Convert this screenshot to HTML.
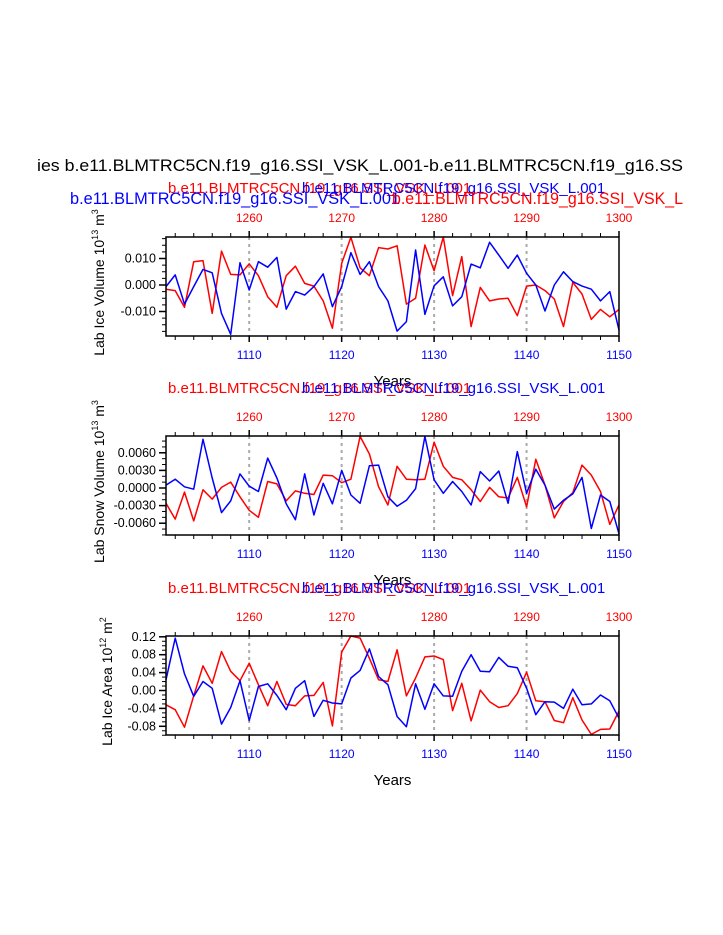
<!DOCTYPE html>
<html><head><meta charset="utf-8"><style>
body{margin:0;background:#fff;}
svg{display:block;font-family:"Liberation Sans",sans-serif;}
</style></head><body>
<svg id="chart" width="723" height="935" viewBox="0 0 723 935" xmlns="http://www.w3.org/2000/svg">
<text x="37" y="171" font-size="17" fill="#000" textLength="646" lengthAdjust="spacingAndGlyphs">ies b.e11.BLMTRC5CN.f19_g16.SSI_VSK_L.001-b.e11.BLMTRC5CN.f19_g16.SS</text>
</svg>
<script>
const years = [];
for (let i = 0; i < 50; i++) years.push(1101 + i);
const topLabels = ["1260","1270","1280","1290","1300"];
const botLabels = ["1110","1120","1130","1140","1150"];
const iceVolBlue = [-0.0006,0.0038,-0.0072,-0.0006,0.0059,0.0046,-0.0107,-0.0186,0.0084,-0.0019,0.0088,0.0067,0.0104,-0.0091,-0.0025,-0.0038,-0.0006,0.0042,-0.0082,-0.0006,0.0122,0.0040,0.0088,-0.0006,-0.0060,-0.0174,-0.0138,0.0132,-0.0111,-0.0003,0.0031,-0.0079,-0.0044,0.0079,0.0065,0.0161,0.0113,0.0063,0.0113,0.0044,0,-0.0098,0,0.0050,0.0013,-0.0004,-0.0016,-0.0060,-0.0025,-0.0170];
const iceVolRed = [-0.0016,-0.0021,-0.0084,0.0088,0.0092,-0.0107,0.0128,0.0040,0.0038,0.0080,0.0035,-0.0044,-0.0084,0.0035,0.0071,0.0006,-0.0004,-0.0060,-0.0163,0.0082,0.0180,0.0065,0.0035,0.0141,0.0136,0.0148,-0.0072,-0.0050,0.0151,0.0054,0.0182,-0.0040,0.0107,-0.0157,-0.0009,-0.0060,-0.0053,-0.0050,-0.0116,-0.0004,0,-0.0021,-0.0053,-0.0157,0.0010,-0.0034,-0.0130,-0.0092,-0.0120,-0.0092];
const snowBlue = [0.0005,0.0015,0.0002,-0.0002,0.0083,0.0017,-0.0042,-0.0022,0.0024,0.0003,-0.0006,0.0051,0.0017,-0.0027,-0.0054,0.0024,-0.0046,0.0008,-0.0027,0.0030,-0.0012,-0.0026,0.0038,0.0039,-0.0015,-0.0031,-0.0021,-0.0001,0.0088,0.0014,-0.0009,0.0011,-0.0006,-0.0029,0.0028,0.0012,0.0029,-0.0026,0.0062,-0.0009,0.0032,0.0005,-0.0036,-0.0021,-0.0010,0.0018,-0.0069,-0.0012,-0.0023,-0.0078];
const snowRed = [-0.0026,-0.0053,-0.0007,-0.0056,-0.0003,-0.0019,0.0001,0.0010,-0.0015,-0.0038,-0.0050,0.0011,0.0007,-0.0022,-0.0005,-0.0009,-0.0011,0.0022,0.0021,0.0009,0.0015,0.0088,0.0058,0.0002,-0.0029,0.0037,0.0015,0.0014,0.0015,0.0078,0.0037,0.0018,0.0014,-0.0003,-0.0023,0.0001,-0.0015,-0.0017,0.0018,-0.0032,0.0049,0.0005,-0.0051,-0.0023,-0.0008,0.0039,0.0022,-0.0006,-0.0062,-0.0029];
const areaBlue = [0.024,0.117,0.037,-0.013,0.020,0.005,-0.075,-0.038,0.022,-0.067,0.009,0.015,-0.011,-0.043,0.005,0.022,-0.058,-0.022,-0.028,-0.030,0.028,0.045,0.093,0.031,0.013,-0.058,-0.081,0.015,-0.042,0.015,-0.012,-0.013,0.043,0.080,0.043,0.042,0.074,0.054,0.051,0.005,-0.054,-0.025,-0.026,-0.040,0.003,-0.032,-0.030,-0.010,-0.023,-0.062];
const areaRed = [-0.032,-0.043,-0.082,-0.012,0.055,0.016,0.087,0.043,0.022,0.061,0.013,-0.034,0.020,-0.031,-0.034,-0.012,-0.011,0.018,-0.079,0.086,0.125,0.117,0.072,0.024,0.020,0.091,-0.012,0.028,0.075,0.077,0.069,-0.045,0.016,-0.068,0.001,-0.025,-0.038,-0.034,-0.007,0.041,-0.023,-0.025,-0.067,-0.072,-0.016,-0.066,-0.098,-0.087,-0.086,-0.046];
const iceTicks = [0.010,0.000,-0.010];
const iceTickLabels = ["0.010","0.000","-0.010"];
const snowTicks = [0.006,0.003,0,-0.003,-0.006];
const snowTickLabels = ["0.0060","0.0030","0.0000","-0.0030","-0.0060"];
const areaTicks = [0.12,0.08,0.04,0,-0.04,-0.08];
const areaTickLabels = ["0.12","0.08","0.04","0.00","-0.04","-0.08"];

const svg = document.getElementById('chart');
const NS = 'http://www.w3.org/2000/svg';
function mk(tag, attrs, parent){const e=document.createElementNS(NS,tag);for(const k in attrs)e.setAttribute(k,attrs[k]);(parent||svg).appendChild(e);return e;}
const X0=166, X1=619, xmin=1101, xmax=1150;
function xs(v){return X0+(v-xmin)/(xmax-xmin)*(X1-X0);}
const TITLE="b.e11.BLMTRC5CN.f19_g16.SSI_VSK_L.001";

const panels=[
 {top:237,bot:336,zero:285,unit:0.01,upx:26.5,blue:iceVolBlue,red:iceVolRed,ticks:iceTicks,labels:iceTickLabels,minor:0.0025,ylab:"Lab Ice Volume 10",exp:"13",un:" m",uexp:"3",name:"ice-volume",labx:100,titleY:193,first:true},
 {top:436,bot:535,zero:488,unit:0.003,upx:17.6,blue:snowBlue,red:snowRed,ticks:snowTicks,labels:snowTickLabels,minor:0.001,ylab:"Lab Snow Volume 10",exp:"13",un:" m",uexp:"3",name:"snow-volume",labx:100,titleY:393},
 {top:636,bot:735,zero:690.5,unit:0.04,upx:17.9,blue:areaBlue,red:areaRed,ticks:areaTicks,labels:areaTickLabels,minor:0.01,ylab:"Lab Ice Area 10",exp:"12",un:" m",uexp:"2",name:"ice-area",labx:108,titleY:593}
];
panels.forEach(p=>{
 const g=mk('g',{});
 
 
 const ys=v=>p.zero-v/p.unit*p.upx;
 [1110,1120,1130,1140].forEach(yr=>{
  const l=mk('line',{x1:xs(yr),x2:xs(yr),y1:p.top,y2:p.bot,stroke:'#aaa','stroke-width':2,'stroke-dasharray':'3,4'},g);
  
  
 });
 [[p.red,'#f00','red-series'],[p.blue,'#00f','blue-series']].forEach(([arr,c,n])=>{
  const pts=arr.map((v,i)=>xs(years[i]).toFixed(1)+','+Math.max(p.top,Math.min(p.bot,ys(v))).toFixed(1)).join(' ');
  const pl=mk('polyline',{points:pts,fill:'none',stroke:c,'stroke-width':1.5,'stroke-linejoin':'round'},g);
  
  
 });
 const fr=mk('rect',{x:X0,y:p.top,width:X1-X0,height:p.bot-p.top,fill:'none',stroke:'#000','stroke-width':1.5},g);
 
 
 for(let yr=1102;yr<=1150;yr+=2){
  const maj=(yr%10===0), len=maj?6:4;
  mk('line',{x1:xs(yr),x2:xs(yr),y1:p.top,y2:p.top-len,stroke:'#000','stroke-width':maj?1.5:1},g);
  mk('line',{x1:xs(yr),x2:xs(yr),y1:p.bot,y2:p.bot+len,stroke:'#000','stroke-width':maj?1.5:1},g);
 }
 botLabels.forEach((t,i)=>{
  const tx=mk('text',{x:xs(1110+10*i),y:p.bot+23,'font-size':12,fill:'#00f','text-anchor':'middle'},g);tx.textContent=t;
  
  
 });
 topLabels.forEach((t,i)=>{
  const tx=mk('text',{x:xs(1110+10*i),y:p.top-15,'font-size':12,fill:'#f00','text-anchor':'middle'},g);tx.textContent=t;
  
  
 });
 for(let k=-20;k<=20;k++){const v=k*p.minor,y=ys(v);if(y<p.top-0.5||y>p.bot+0.5)continue;
  mk('line',{x1:X0,x2:X0-4,y1:y,y2:y,stroke:'#000','stroke-width':1},g);}
 p.ticks.forEach((v,i)=>{
  mk('line',{x1:X0,x2:X0-7,y1:ys(v),y2:ys(v),stroke:'#000','stroke-width':1.5},g);
  const tx=mk('text',{x:X0-10,y:ys(v)+4,'font-size':12.5,fill:'#000','text-anchor':'end'},g);tx.textContent=p.labels[i];
  
  
 });
 const cy=(p.top+p.bot)/2;
 const yl=mk('text',{x:p.labx+4,y:cy+4,'font-size':14,fill:'#000','text-anchor':'middle',transform:`rotate(-90 ${p.labx} ${cy})`},g);
 
 
 yl.innerHTML=p.ylab+'<tspan dy="-6" font-size="9">'+p.exp+'</tspan><tspan dy="6">'+p.un+'</tspan><tspan dy="-6" font-size="9">'+p.uexp+'</tspan>';
 const xt=mk('text',{x:(X0+X1)/2,y:p.bot+50,'font-size':15,fill:'#000','text-anchor':'middle'},g);xt.textContent='Years';
 
 
 const t1=mk('text',{x:168,y:p.titleY,'font-size':15,fill:'#f00'},g);t1.textContent=TITLE;
 
 
 const t2=mk('text',{x:302,y:p.titleY,'font-size':15,fill:'#00f'},g);t2.textContent=TITLE;
 
 
 if(p.first){
  const t3=mk('text',{x:70,y:204,'font-size':17,fill:'#00f',textLength:330,lengthAdjust:'spacingAndGlyphs'},g);t3.textContent=TITLE;
  
  
  const t4=mk('text',{x:392,y:204,'font-size':17,fill:'#f00',textLength:291,lengthAdjust:'spacingAndGlyphs'},g);t4.textContent='b.e11.BLMTRC5CN.f19_g16.SSI_VSK_L';
  
  
 }
});
</script>
</body></html>
